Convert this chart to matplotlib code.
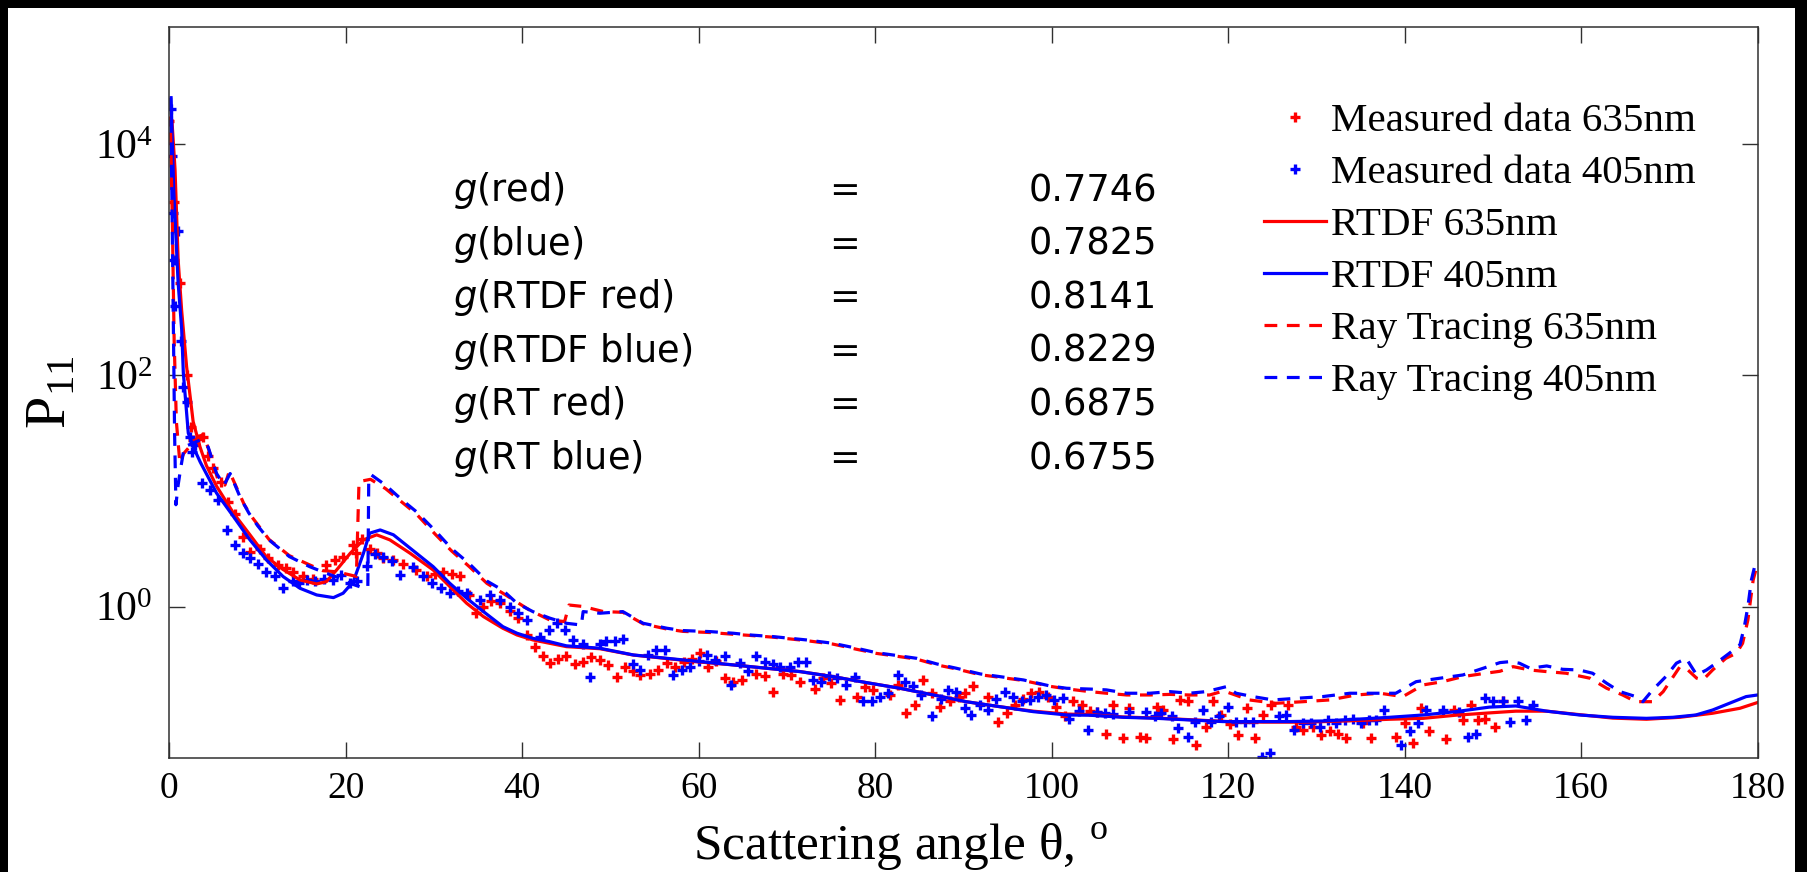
import numpy as np
import matplotlib
matplotlib.use("Agg")
import matplotlib.pyplot as plt
from matplotlib.patches import Rectangle
from matplotlib.ticker import FixedLocator, NullLocator

plt.rcParams['font.family'] = ['Liberation Serif', 'DejaVu Sans']
plt.rcParams['mathtext.fontset'] = 'custom'
plt.rcParams['mathtext.rm'] = 'DejaVu Sans'
plt.rcParams['mathtext.it'] = 'DejaVu Sans:italic'
plt.rcParams['mathtext.bf'] = 'DejaVu Sans:bold'

# ---------------- data (angles in degrees, P11 read as log10 values) ----------------
meas635_deg = [0.0, 0.5, 1.2, 2.0, 2.5, 2.7, 3.2, 3.85, 4.4, 5.0,
               5.9, 6.6, 7.5, 8.3, 9.1, 10.3, 11.2, 12.3, 13.2, 14.05,
               15.2, 16.3, 17.8, 18.8, 19.7, 20.85, 21.2, 21.8, 22.7, 23.5,
               24.25, 25.4, 26.5, 28.0, 29.2, 30.1, 31.0, 32.0, 32.9, 34.0,
               34.8, 35.6, 36.5, 37.5, 38.6, 39.5, 40.5, 41.5, 42.4, 43.1,
               44.0, 45.0, 46.0, 46.9, 47.8, 48.8, 49.7, 50.7, 51.6, 52.5,
               53.3, 54.5, 55.4, 56.4, 57.3, 58.3, 59.2, 60.1, 61.1, 62.0,
               63.0, 63.9, 64.9, 66.5, 67.5, 68.4, 69.6, 70.5, 71.5, 73.2,
               74.1, 75.0, 76.0, 77.9, 78.8, 79.8, 81.7, 82.6, 83.5, 84.5,
               85.4, 86.4, 87.3, 88.5, 89.5, 90.2, 91.1, 92.8, 93.9, 94.9,
               95.8, 96.8, 97.7, 98.6, 99.6, 100.5, 101.5, 102.4, 103.4, 104.3,
               105.1, 106.2, 106.9, 108.1, 108.8, 110.0, 110.7, 111.9, 112.6, 113.7,
               114.5, 115.4, 116.4, 117.5, 118.3, 119.2, 120.2, 121.1, 122.1, 123.0,
               124.0, 124.9, 126.8, 127.7, 128.5, 129.6, 130.5, 131.5, 132.4, 133.4,
               135.3, 136.2, 139.0, 140.0, 140.9, 141.9, 142.8, 144.7, 145.6, 146.6,
               147.5, 148.3, 149.1, 150.2, 151.1]
meas635_log = [4.2, 3.5, 2.8, 2.0, 1.55, 1.44, 1.45, 1.47, 1.3, 1.2,
               1.08, 0.9, 0.8, 0.6, 0.475, 0.5, 0.42, 0.36, 0.33, 0.30,
               0.26, 0.24, 0.36, 0.40, 0.43, 0.53, 0.46, 0.58, 0.50, 0.46,
               0.42, 0.40, 0.37, 0.32, 0.26, 0.28, 0.30, 0.28, 0.26, 0.10,
               -0.06, 0.0, 0.05, 0.03, -0.04, -0.10, -0.25, -0.35, -0.43, -0.49,
               -0.45, -0.43, -0.50, -0.48, -0.44, -0.46, -0.505, -0.61, -0.52, -0.56,
               -0.59, -0.58, -0.55, -0.49, -0.52, -0.48, -0.45, -0.40, -0.52, -0.47,
               -0.62, -0.65, -0.635, -0.58, -0.60, -0.74, -0.58, -0.59, -0.65, -0.71,
               -0.62, -0.66, -0.81, -0.78, -0.70, -0.72, -0.765, -0.68, -0.92, -0.85,
               -0.635, -0.75, -0.87, -0.82, -0.78, -0.75, -0.69, -0.78, -1.0, -0.92,
               -0.85, -0.80, -0.75, -0.74, -0.78, -0.87, -0.95, -0.82, -0.85, -0.90,
               -0.91, -1.10, -0.85, -1.14, -0.88, -1.125, -1.14, -0.87, -0.895, -1.15,
               -0.81, -0.82, -1.20, -1.04, -0.82, -0.94, -1.02, -1.11, -0.88, -1.14,
               -0.94, -0.85, -0.85, -1.04, -1.07, -1.04, -1.11, -1.08, -1.10, -1.14,
               -1.01, -1.14, -1.125, -1.01, -1.18, -0.88, -1.08, -1.15, -0.895, -0.98,
               -0.85, -0.98, -0.97, -1.04, -0.82]

meas405_deg = [0.2, 0.3, 0.4, 0.5, 0.6, 1.0, 1.3, 1.6, 1.96, 2.34,
               2.53, 2.9, 3.66, 4.6, 5.55, 6.5, 7.44, 8.38, 9.2, 10.1,
               11.0, 11.97, 12.9, 14.0, 14.7, 15.56, 16.5, 17.5, 18.6, 19.5,
               20.47, 21.3, 22.36, 23.3, 24.25, 25.2, 26.1, 27.6, 28.8, 29.8,
               30.8, 31.8, 32.7, 33.7, 35.2, 36.3, 37.5, 38.6, 39.5, 40.5,
               42.0, 43.0, 43.9, 44.8, 45.8, 46.9, 47.7, 48.8, 49.5, 50.5,
               51.4, 52.6, 53.3, 54.3, 55.2, 56.2, 57.1, 58.1, 59.0, 60.0,
               60.9, 61.8, 63.0, 63.7, 64.7, 65.6, 66.5, 67.5, 68.4, 69.2,
               70.3, 71.3, 72.2, 73.0, 73.9, 74.8, 75.7, 76.7, 77.7, 78.6,
               79.6, 80.5, 81.5, 82.6, 83.4, 84.3, 85.2, 86.4, 87.4, 88.3,
               89.2, 90.2, 90.9, 91.9, 92.8, 93.7, 94.7, 95.6, 96.6, 97.5,
               98.5, 99.4, 100.3, 101.3, 102.0, 103.1, 104.1, 105.1, 106.0, 107.0,
               108.8, 110.7, 111.7, 112.4, 113.6, 114.3, 115.4, 116.2, 117.1, 118.1,
               119.0, 120.0, 120.9, 121.9, 122.8, 123.8, 124.7, 125.8, 126.6, 127.5,
               128.5, 129.4, 130.4, 131.3, 132.2, 133.2, 134.1, 135.1, 136.0, 136.8,
               137.7, 139.6, 140.6, 141.5, 142.4, 144.3, 146.2, 147.2, 148.1, 149.1,
               150.0, 151.1, 151.9, 152.8, 153.8, 154.5]
meas405_log = [4.3, 3.9, 3.4, 3.0, 2.6, 3.25, 2.3, 1.9, 1.77, 1.47,
               1.34, 1.40, 1.07, 1.01, 0.92, 0.66, 0.53, 0.46, 0.42, 0.37,
               0.30, 0.26, 0.16, 0.22, 0.20, 0.23, 0.22, 0.24, 0.23, 0.27,
               0.20, 0.22, 0.35, 0.45, 0.43, 0.39, 0.27, 0.345, 0.26, 0.20,
               0.16, 0.115, 0.13, 0.115, 0.057, 0.10, 0.057, 0.0, -0.06, -0.12,
               -0.26, -0.20, -0.145, -0.20, -0.29, -0.32, -0.61, -0.32, -0.30, -0.30,
               -0.28, -0.50, -0.55, -0.42, -0.375, -0.375, -0.59, -0.55, -0.52, -0.47,
               -0.42, -0.46, -0.43, -0.68, -0.49, -0.56, -0.43, -0.48, -0.50, -0.52,
               -0.52, -0.48, -0.48, -0.635, -0.65, -0.60, -0.62, -0.68, -0.61, -0.82,
               -0.82, -0.78, -0.75, -0.59, -0.65, -0.69, -0.765, -0.95, -0.80, -0.72,
               -0.74, -0.88, -0.94, -0.85, -0.895, -0.80, -0.74, -0.78, -0.82, -0.81,
               -0.78, -0.765, -0.81, -0.79, -0.97, -0.90, -1.07, -0.91, -0.92, -0.93,
               -0.91, -0.91, -0.95, -0.92, -0.95, -1.05, -1.125, -1.0, -0.895, -1.0,
               -0.95, -0.87, -1.0, -1.0, -1.0, -1.30, -1.27, -0.95, -0.94, -1.07,
               -1.01, -1.01, -1.04, -0.98, -1.01, -0.98, -0.97, -1.01, -0.98, -0.98,
               -0.895, -1.20, -1.08, -1.01, -0.895, -0.895, -0.91, -1.125, -1.10, -0.79,
               -0.82, -0.82, -1.0, -0.82, -0.98, -0.85]

rtdf635_deg = [0.3, 0.65, 1.0, 1.4, 1.96, 2.7, 3.48, 4.2, 5.36, 7.25,
               9.14, 11.0, 12.9, 14.8, 16.7, 17.8, 18.96, 20.5, 22.0, 23.5,
               25.0, 27.3, 29.9, 31.8, 33.7, 35.6, 37.8, 39.4, 41.2, 43.1,
               45.0, 46.9, 48.8, 52.6, 56.4, 60.1, 63.9, 67.7, 71.5, 75.2,
               79.0, 82.8, 86.6, 90.3, 94.1, 97.9, 101.7, 104.3, 108.0, 112.0,
               116.0, 120.0, 124.0, 128.0, 131.0, 135.0, 138.3, 142.1, 145.8, 149.6,
               152.6, 156.1, 159.8, 163.6, 167.4, 171.2, 174.9, 178.0, 180.0]
rtdf635_log = [4.2, 3.78, 3.0, 2.56, 2.075, 1.6, 1.38, 1.22, 1.04, 0.81,
               0.62, 0.43, 0.32, 0.23, 0.195, 0.215, 0.316, 0.46, 0.576, 0.62,
               0.576, 0.46, 0.316, 0.172, 0.028, -0.087, -0.188, -0.246, -0.289, -0.318,
               -0.347, -0.356, -0.365, -0.42, -0.45, -0.48, -0.505, -0.534, -0.563, -0.606,
               -0.658, -0.707, -0.765, -0.823, -0.866, -0.905, -0.93, -0.935, -0.955, -0.965,
               -0.98, -0.995, -1.0, -1.0, -0.995, -0.985, -0.975, -0.967, -0.94, -0.92,
               -0.905, -0.905, -0.935, -0.965, -0.975, -0.958, -0.923, -0.88, -0.83]

rtdf405_deg = [0.2, 0.5, 1.0, 1.4, 1.59, 2.15, 2.72, 3.5, 5.36, 7.25,
               9.14, 11.0, 12.9, 14.8, 16.7, 18.6, 19.7, 20.85, 22.0, 22.7,
               23.9, 25.4, 27.3, 29.9, 31.8, 33.7, 35.6, 37.8, 39.4, 41.2,
               43.1, 45.0, 46.9, 48.8, 52.6, 56.4, 60.1, 63.9, 67.7, 71.5,
               75.2, 79.0, 82.8, 86.6, 90.3, 94.1, 97.9, 101.7, 104.3, 108.1,
               111.9, 115.6, 119.4, 123.2, 127.0, 130.7, 134.5, 138.3, 142.1, 145.8,
               149.6, 152.6, 156.1, 159.8, 163.6, 167.4, 170.4, 173.0, 174.9, 176.8,
               178.7, 180.0]
rtdf405_log = [4.4, 3.6, 2.8, 2.4, 2.02, 1.5, 1.38, 1.25, 0.98, 0.78,
               0.576, 0.403, 0.259, 0.158, 0.10, 0.077, 0.115, 0.215, 0.46, 0.634,
               0.662, 0.62, 0.504, 0.345, 0.20, 0.072, -0.044, -0.174, -0.231, -0.275,
               -0.304, -0.34, -0.35, -0.361, -0.419, -0.448, -0.476, -0.505, -0.534, -0.563,
               -0.606, -0.658, -0.707, -0.765, -0.823, -0.866, -0.909, -0.938, -0.94, -0.958,
               -0.967, -0.981, -0.995, -0.995, -0.995, -0.99, -0.975, -0.958, -0.938, -0.909,
               -0.87, -0.86, -0.905, -0.938, -0.958, -0.967, -0.958, -0.938, -0.895, -0.837,
               -0.779, -0.765]

rt635_deg = [0.15, 0.35, 0.55, 0.8, 1.2, 1.6, 2.5, 3.2, 3.85, 4.5,
             5.5, 6.3, 6.8, 7.5, 8.5, 9.5, 11.3, 13.6, 15.9, 17.4,
             19.0, 21.2, 21.5, 22.8, 24.5, 26.4, 28.0, 30.2, 32.0, 34.0,
             36.0, 37.8, 40.8, 43.1, 44.8, 45.3, 46.9, 49.2, 51.4, 53.7,
             56.4, 58.2, 61.3, 63.9, 65.8, 68.4, 72.2, 75.2, 77.9, 80.1,
             82.0, 84.7, 87.0, 89.2, 91.9, 94.1, 96.8, 99.8, 101.7, 104.3,
             106.2, 108.5, 111.1, 113.4, 115.6, 117.9, 119.5, 122.4, 125.4, 128.5,
             131.5, 134.5, 137.2, 139.8, 142.1, 144.3, 146.6, 148.9, 150.8, 152.3,
             154.2, 156.1, 158.3, 161.0, 162.9, 164.7, 166.2, 168.1, 169.3, 171.2,
             172.1, 173.1, 173.8, 174.9, 176.4, 177.6, 178.3, 178.9, 179.5, 179.8]
rt635_log = [4.1, 3.3, 2.3, 1.6, 1.24, 1.32, 1.40, 1.46, 1.49, 1.35,
             1.10, 1.05, 1.17, 1.05, 0.88, 0.76, 0.58, 0.44, 0.36, 0.31,
             0.30, 0.26, 1.08, 1.10, 1.02, 0.90, 0.80, 0.62, 0.48, 0.345,
             0.20, 0.115, -0.03, -0.116, -0.13, 0.013, 0.0, -0.044, -0.05, -0.15,
             -0.195, -0.215, -0.225, -0.24, -0.25, -0.265, -0.295, -0.325, -0.37, -0.405,
             -0.425, -0.455, -0.505, -0.54, -0.59, -0.612, -0.64, -0.69, -0.712, -0.736,
             -0.75, -0.765, -0.765, -0.76, -0.765, -0.765, -0.73, -0.808, -0.837, -0.823,
             -0.808, -0.765, -0.75, -0.779, -0.678, -0.65, -0.606, -0.58, -0.56, -0.52,
             -0.549, -0.563, -0.577, -0.62, -0.707, -0.765, -0.823, -0.823, -0.736, -0.52,
             -0.549, -0.62, -0.635, -0.549, -0.448, -0.404, -0.318, -0.116, 0.23, 0.316]

rt405_deg = [0.15, 0.3, 0.45, 0.6, 0.75, 1.0, 1.3, 1.7, 2.6, 3.5,
             4.4, 5.36, 6.2, 6.9, 8.0, 9.0, 10.0, 11.3, 13.6, 15.9,
             17.7, 19.5, 20.5, 22.0, 22.5, 22.6, 22.9, 24.5, 26.4, 28.0,
             30.2, 32.0, 34.0, 36.0, 37.8, 39.4, 41.2, 43.1, 45.0, 46.7,
             46.9, 48.8, 51.4, 53.7, 56.4, 58.2, 61.3, 63.9, 65.8, 68.4,
             72.2, 75.2, 77.9, 80.1, 82.0, 84.7, 87.0, 89.2, 91.9, 94.1,
             96.8, 99.8, 101.7, 104.7, 106.2, 108.5, 111.1, 113.4, 115.6, 117.5,
             119.8, 120.9, 122.8, 125.1, 127.7, 130.7, 133.8, 136.8, 139.0, 141.3,
             144.0, 146.6, 148.9, 150.8, 151.9, 153.0, 154.2, 156.1, 157.9, 159.8,
             161.3, 162.9, 164.4, 166.2, 167.0, 168.1, 169.6, 170.8, 171.9, 172.5,
             173.1, 174.2, 175.3, 176.8, 178.0, 178.5, 178.9, 179.3, 179.8]
rt405_log = [4.4, 3.5, 2.5, 1.5, 0.88, 1.05, 1.2, 1.38, 1.41, 1.44,
             1.38, 1.15, 1.05, 1.15, 0.95, 0.81, 0.70, 0.576, 0.432, 0.345,
             0.29, 0.24, 0.20, 0.16, 0.17, 1.08, 1.138, 1.05, 0.92, 0.82,
             0.65, 0.50, 0.37, 0.22, 0.14, 0.028, -0.044, -0.10, -0.145, -0.16,
             -0.044, -0.058, -0.044, -0.145, -0.188, -0.208, -0.217, -0.231, -0.246, -0.26,
             -0.289, -0.318, -0.361, -0.399, -0.419, -0.448, -0.497, -0.534, -0.583, -0.606,
             -0.635, -0.687, -0.707, -0.715, -0.721, -0.75, -0.75, -0.736, -0.75, -0.736,
             -0.693, -0.75, -0.779, -0.808, -0.794, -0.779, -0.75, -0.75, -0.75, -0.65,
             -0.62, -0.592, -0.534, -0.485, -0.477, -0.49, -0.534, -0.514, -0.543, -0.549,
             -0.577, -0.664, -0.736, -0.779, -0.823, -0.722, -0.606, -0.49, -0.448, -0.52,
             -0.592, -0.549, -0.49, -0.404, -0.332, -0.174, 0.0, 0.23, 0.389]

legend_labels = ["Measured data 635nm", "Measured data 405nm", "RTDF 635nm",
                 "RTDF 405nm", "Ray Tracing 635nm", "Ray Tracing 405nm"]
g_names = ["$g$(red)", "$g$(blue)", "$g$(RTDF red)", "$g$(RTDF blue)",
           "$g$(RT red)", "$g$(RT blue)"]
g_values = ["0.7746", "0.7825", "0.8141", "0.8229", "0.6875", "0.6755"]
x_ticks = [0, 20, 40, 60, 80, 100, 120, 140, 160, 180]
y_ticks = [1e0, 1e2, 1e4]

# ---------------- figure ----------------
W, H = 1808, 872
fig = plt.figure(figsize=(W / 100, H / 100), dpi=100, facecolor='black')
fig.patches.append(Rectangle((8 / W, 0), (1795 - 8) / W, (H - 8) / H,
                             transform=fig.transFigure, facecolor='white',
                             edgecolor='none', zorder=-10))

L, R, T, B = 169.3, 1757.6, 26.7, 758.0
ax = fig.add_axes([L / W, 1 - B / H, (R - L) / W, (B - T) / H])
ax.set_facecolor('white')

RED, BLUE = '#ff0000', '#0000ff'
LW = 2.3
mk = dict(linestyle='none', marker='+', markersize=7, markeredgewidth=2.4)
h1, = ax.plot(meas635_deg, np.power(10.0, meas635_log), color=RED, label=legend_labels[0], **mk)
h2, = ax.plot(meas405_deg, np.power(10.0, meas405_log), color=BLUE, label=legend_labels[1], **mk)
h3, = ax.plot(rtdf635_deg, np.power(10.0, rtdf635_log), color=RED, lw=LW, label=legend_labels[2])
h4, = ax.plot(rtdf405_deg, np.power(10.0, rtdf405_log), color=BLUE, lw=LW, label=legend_labels[3])
h5, = ax.plot(rt635_deg, np.power(10.0, rt635_log), color=RED, lw=LW, dashes=(4, 3),
              label=legend_labels[4])
h6, = ax.plot(rt405_deg, np.power(10.0, rt405_log), color=BLUE, lw=LW, dashes=(4, 3),
              label=legend_labels[5])

ax.set_yscale('log')
ax.set_xlim(0, 180)
ax.set_ylim(10 ** -1.31, 10 ** 5.014)
ax.xaxis.set_major_locator(FixedLocator(x_ticks))
ax.yaxis.set_major_locator(FixedLocator(y_ticks))
ax.yaxis.set_minor_locator(NullLocator())
ax.xaxis.set_minor_locator(NullLocator())
ax.tick_params(which='both', direction='in', top=True, right=True, length=11.5,
               width=1.0, color='#303030', labelcolor='black')
ax.tick_params(axis='x', pad=10, labelsize=27)
ax.tick_params(axis='y', pad=12, labelsize=30)
for s in ax.spines.values():
    s.set_color('#303030')
    s.set_linewidth(1.1)

xl = ax.set_xlabel("Scattering angle \u03b8, $^{\\mathdefault{o}}$", fontsize=37,
                   family='Liberation Serif')
xl.set_verticalalignment('baseline')
ax.xaxis.set_label_coords((900 - L) / (R - L), (B - 860) / (B - T))
ax.set_ylabel("P$_{\\mathdefault{11}}$", fontsize=42, family='Liberation Serif')
ax.yaxis.set_label_coords(-0.058, 0.5)

leg = ax.legend(handles=[h1, h2, h3, h4, h5, h6], loc='upper left',
                bbox_to_anchor=(1248 / W, 1 - 86 / H), bbox_transform=fig.transFigure,
                frameon=False, handlelength=1.5, handletextpad=0.12,
                labelspacing=0.35, borderaxespad=0, borderpad=0.4, numpoints=1,
                prop={'family': 'Liberation Serif', 'size': 29.5})

baselines = [201.0, 254.6, 308.2, 361.8, 415.4, 469.0]
for name, val, yb in zip(g_names, g_values, baselines):
    fig.text(453 / W, 1 - yb / H, name, fontsize=26.5, family='DejaVu Sans',
             ha='left', va='baseline')
    fig.text(845 / W, 1 - yb / H, "=", fontsize=26.5, family='DejaVu Sans',
             ha='center', va='baseline')
    fig.text(1029 / W, 1 - yb / H, val, fontsize=26.5, family='DejaVu Sans',
             ha='left', va='baseline')

fig.savefig('out.png', dpi=100, facecolor='black')
